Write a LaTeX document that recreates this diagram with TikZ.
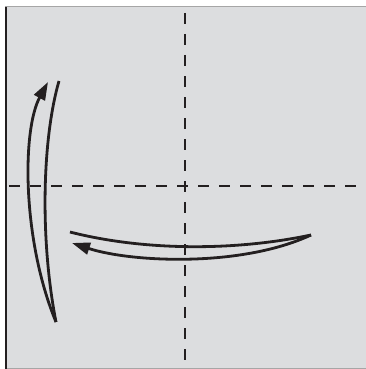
\documentclass[tikz,border=0pt]{standalone}
\usetikzlibrary{arrows.meta}
\definecolor{paper}{HTML}{DCDDDF}
\definecolor{ink}{HTML}{231F20}
\begin{document}
\begin{tikzpicture}[x=1pt,y=-1pt,
  crease/.style={ink,line width=2.7pt,dash pattern=on 11pt off 10pt},
  curve/.style={ink,line width=2.8pt},
  tip/.style={-{Triangle[length=18pt,width=12pt]}}]
\useasboundingbox (0,0) rectangle (366,369);
\fill[white] (0,0) rectangle (366,369);
\fill[paper] (5,7) rectangle (366,369);
\draw[gray!70,line width=1pt] (5,7) -- (366,7);
\draw[gray!70,line width=1pt] (5,368) -- (366,368);
\draw[ink,line width=2.6pt] (6,7) -- (6,369);
% creases
\coordinate (vt) at (185,13);
\coordinate (vb) at (185,362);
\coordinate (hl) at (9,186);
\coordinate (hr) at (360,186);
\draw[crease] (vt) -- (vb);
\draw[crease] (hl) -- (hr);
% left arrow
\coordinate (lb) at (56,322);
\coordinate (lt) at (59,81);
\coordinate (la) at (48,82);
\draw[curve] (lb) .. controls (40,240) and (42,140) .. (lt);
\draw[curve,tip] (lb) .. controls (22,240) and (22,130) .. (la);
% bottom arrow
\coordinate (br) at (311,235);
\coordinate (bl) at (70,232);
\coordinate (ba) at (72,243);
\draw[curve] (br) .. controls (230,252) and (140,250) .. (bl);
\draw[curve,tip] (br) .. controls (240,268) and (130,262) .. (ba);
\end{tikzpicture}
\end{document}
